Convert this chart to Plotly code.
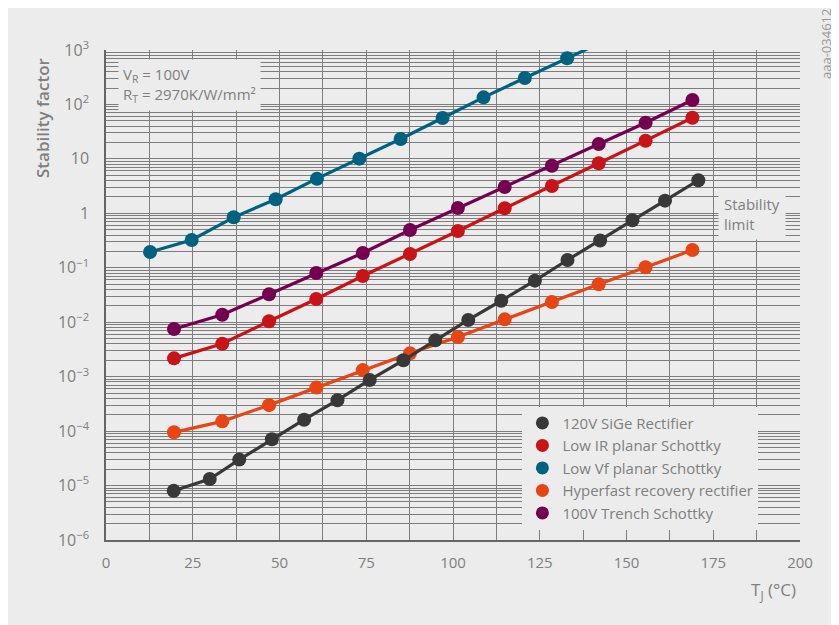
import plotly.graph_objects as go

# ---- data ----
t_sige = [19.5, 29.9, 38.4, 47.8, 57.1, 66.7, 76.0, 85.7, 94.9, 104.4, 113.9,
          123.6, 133.0, 142.4, 151.7, 161.1, 170.7]
v_sige = [8.0e-6, 1.32e-5, 3.0e-5, 7.1e-5, 1.62e-4, 3.7e-4, 8.7e-4, 2.0e-3,
          4.65e-3, 1.1e-2, 2.48e-2, 5.8e-2, 0.139, 0.317, 0.745, 1.71, 4.05]

t_common = [19.6, 33.5, 47.0, 60.6, 74.0, 87.6, 101.4, 114.9, 128.5, 142.0, 155.5, 169.0]
v_lowir = [0.00217, 0.00403, 0.0104, 0.0267, 0.0706, 0.179, 0.473, 1.24, 3.18, 8.3, 21.6, 57]
v_hyper = [9.5e-5, 1.51e-4, 3.0e-4, 6.3e-4, 1.32e-3, 2.68e-3, 5.35e-3, 1.13e-2,
           2.35e-2, 4.97e-2, 0.102, 0.212]
v_trench = [0.0075, 0.0137, 0.0326, 0.080, 0.187, 0.494, 1.25, 3.04, 7.5, 18.8, 46.2, 121]

t_lowvf = [12.7, 24.7, 36.8, 48.9, 60.8, 73.0, 84.9, 97.0, 108.8, 120.7, 132.9, 144.9]
v_lowvf = [0.195, 0.324, 0.845, 1.81, 4.33, 10.1, 23.2, 56.3, 135, 306, 704, 1600]

x_ticks = [0, 25, 50, 75, 100, 125, 150, 175, 200]
y_tickvals = [1e-6, 1e-5, 1e-4, 1e-3, 1e-2, 1e-1, 1, 10, 1e2, 1e3]
y_ticktext = ["10<sup>−6</sup>", "10<sup>−5</sup>", "10<sup>−4</sup>", "10<sup>−3</sup>",
              "10<sup>−2</sup>", "10<sup>−1</sup>", "1", "10", "10<sup>2</sup>", "10<sup>3</sup>"]
y_minor = [k * 10.0 ** e for e in range(-6, 3) for k in range(2, 10)]

names = ["120V SiGe Rectifier", "Low IR planar Schottky", "Low Vf planar Schottky",
         "Hyperfast recovery rectifier", "100V Trench Schottky"]
colors = {"120V SiGe Rectifier": "#383838",
          "Low IR planar Schottky": "#c81418",
          "Low Vf planar Schottky": "#00627f",
          "Hyperfast recovery rectifier": "#e84515",
          "100V Trench Schottky": "#760050"}

series = {"120V SiGe Rectifier": (t_sige, v_sige),
          "Low IR planar Schottky": (t_common, v_lowir),
          "Low Vf planar Schottky": (t_lowvf, v_lowvf),
          "Hyperfast recovery rectifier": (t_common, v_hyper),
          "100V Trench Schottky": (t_common, v_trench)}

draw_order = ["Hyperfast recovery rectifier", "Low IR planar Schottky",
              "100V Trench Schottky", "Low Vf planar Schottky", "120V SiGe Rectifier"]

BG = "#ececec"
TXT = "#7f7f7f"
GRID = "#7d7d7d"
FONT = "Open Sans"

fig = go.Figure()
for n in draw_order:
    x, y = series[n]
    fig.add_trace(go.Scatter(x=x, y=y, mode="lines+markers", name=n, showlegend=False,
                             line=dict(color=colors[n], width=3.2),
                             marker=dict(color=colors[n], size=14)))
for i, n in enumerate(names):
    fig.add_trace(go.Scatter(x=[None], y=[None], mode="markers", name=n,
                             legendrank=i + 1,
                             marker=dict(color=colors[n], size=13)))

# background patch behind the legend (hides the grid there)
fig.add_shape(type="rect", xref="paper", yref="paper", x0=0.6066, x1=0.9568,
              y0=0.0143, y1=0.2755, fillcolor=BG, line_width=0, layer="between")

fig.update_layout(
    width=831, height=617,
    margin=dict(l=98, r=39, t=42, b=85),
    paper_bgcolor=BG, plot_bgcolor=BG,
    font=dict(family=FONT, color=TXT, size=15),
    showlegend=True,
    legend=dict(x=0.6, y=0.272, xanchor="left", yanchor="top",
                bgcolor=BG, borderwidth=0, font=dict(size=15, color=TXT),
                itemsizing="trace", tracegroupgap=0),
    xaxis=dict(range=[0, 200], tickvals=x_ticks, showgrid=True, gridcolor=GRID,
               gridwidth=1, showline=True, linecolor="#666666", linewidth=1.5,
               zeroline=False, ticks="", ticklabelstandoff=8,
               tickfont=dict(size=15, color=TXT),
               minor=dict(tickmode="array", tickvals=[12.5 + 25 * k for k in range(8)],
                          showgrid=True, gridcolor=GRID, gridwidth=1)),
    yaxis=dict(type="log", range=[-6, 3], tickmode="array", tickvals=y_tickvals,
               ticktext=y_ticktext, showgrid=True, gridcolor=GRID, gridwidth=1,
               showline=True, linecolor="#666666", linewidth=1.5, zeroline=False,
               ticks="", ticklabelstandoff=12, tickfont=dict(size=16, color=TXT),
               minor=dict(tickmode="array", tickvals=y_minor, showgrid=True,
                          gridcolor=GRID, gridwidth=1)),
)

# annotations (positions relative to the plot area)
fig.add_annotation(xref="paper", yref="paper", x=(42 - 106) / 694, y=(540 - 118) / 490,
                   text="Stability factor", textangle=-90, showarrow=False,
                   font=dict(size=17, color=TXT, weight=600),
                   xanchor="center", yanchor="middle")
fig.add_annotation(xref="paper", yref="paper", x=(773 - 106) / 694, y=(540 - 590) / 490,
                   text="T<sub>J</sub> (°C)", showarrow=False,
                   font=dict(size=17, color=TXT), xanchor="center", yanchor="middle")
fig.add_annotation(xref="paper", yref="paper", x=(118 - 106) / 694, y=(540 - 59) / 490,
                   text="V<sub>R</sub> = 100V<br>R<sub>T</sub> = 2970K/W/mm²",
                   align="left", showarrow=False, bgcolor=BG, borderpad=4,
                   font=dict(size=15, color=TXT), xanchor="left", yanchor="top")
fig.add_annotation(xref="paper", yref="paper", x=(718 - 106) / 694, y=(540 - 188) / 490,
                   text="Stability<br>limit", align="left", showarrow=False,
                   bgcolor=BG, borderpad=5, font=dict(size=15, color=TXT),
                   xanchor="left", yanchor="top")
fig.add_annotation(xref="paper", yref="paper", x=(826 - 106) / 694, y=(540 - 44) / 490,
                   text="aaa-034612", textangle=-90, showarrow=False,
                   font=dict(size=13, color="#999999"), xanchor="center", yanchor="middle")

fig.write_html("out.html")
